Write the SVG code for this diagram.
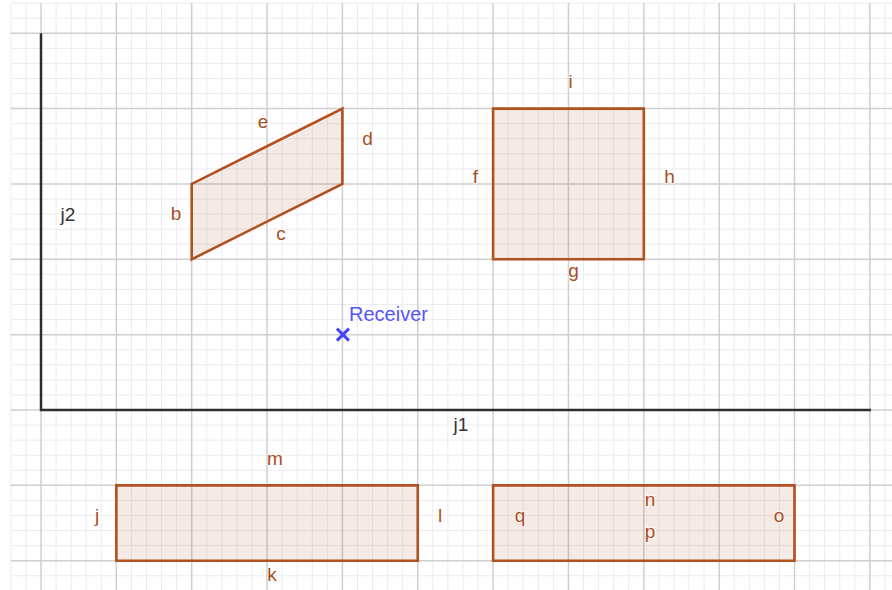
<svg xmlns="http://www.w3.org/2000/svg" width="892" height="590" viewBox="0 0 892 590">
<style>
.minor{stroke:#ececec;stroke-width:1;fill:none}
.major{stroke:#cfcfcf;stroke-width:1.5;fill:none}
.axis{stroke:#2e2e2e;stroke-width:2.5;fill:none}
.poly{fill:#993300;fill-opacity:0.1;stroke:#b0511f;stroke-width:2.6;stroke-linejoin:miter}
.lbl{font-family:"Liberation Sans",Arial,sans-serif;font-size:19px;fill:#a64f24;text-anchor:middle;stroke:#ffffff;stroke-width:2;stroke-opacity:0.6;paint-order:stroke}
.axlbl{font-family:"Liberation Sans",Arial,sans-serif;font-size:19px;fill:#333333;text-anchor:middle}
.pt{stroke:#4444ff;stroke-width:3;fill:none;stroke-linecap:butt}
.ptlbl{font-family:"Liberation Sans",Arial,sans-serif;font-size:20px;fill:#5555ff}
</style>
<rect width="892" height="590" fill="#ffffff"/>
<g id="grid">
<path class="minor" d="M10.86 3.11V590M25.93 3.11V590M56.07 3.11V590M71.14 3.11V590M86.21 3.11V590M101.28 3.11V590M131.42 3.11V590M146.49 3.11V590M161.56 3.11V590M176.63 3.11V590M206.77 3.11V590M221.84 3.11V590M236.91 3.11V590M251.98 3.11V590M282.12 3.11V590M297.19 3.11V590M312.26 3.11V590M327.33 3.11V590M357.47 3.11V590M372.54 3.11V590M387.61 3.11V590M402.68 3.11V590M432.82 3.11V590M447.89 3.11V590M462.96 3.11V590M478.03 3.11V590M508.17 3.11V590M523.24 3.11V590M538.31 3.11V590M553.38 3.11V590M583.52 3.11V590M598.59 3.11V590M613.66 3.11V590M628.73 3.11V590M658.87 3.11V590M673.94 3.11V590M689.01 3.11V590M704.08 3.11V590M734.22 3.11V590M749.29 3.11V590M764.36 3.11V590M779.43 3.11V590M809.57 3.11V590M824.64 3.11V590M839.71 3.11V590M854.78 3.11V590M884.92 3.11V590
M10.86 3.11H892M10.86 18.18H892M10.86 48.32H892M10.86 63.39H892M10.86 78.46H892M10.86 93.53H892M10.86 123.67H892M10.86 138.74H892M10.86 153.81H892M10.86 168.88H892M10.86 199.02H892M10.86 214.09H892M10.86 229.16H892M10.86 244.23H892M10.86 274.37H892M10.86 289.44H892M10.86 304.51H892M10.86 319.58H892M10.86 349.72H892M10.86 364.79H892M10.86 379.86H892M10.86 394.93H892M10.86 425.07H892M10.86 440.14H892M10.86 455.21H892M10.86 470.28H892M10.86 500.42H892M10.86 515.49H892M10.86 530.56H892M10.86 545.63H892M10.86 575.77H892"/>
<path class="major" d="M41 3.11V590M116.35 3.11V590M191.7 3.11V590M267.05 3.11V590M342.4 3.11V590M417.75 3.11V590M493.1 3.11V590M568.45 3.11V590M643.8 3.11V590M719.15 3.11V590M794.5 3.11V590M869.85 3.11V590
M10.86 33.25H892M10.86 108.6H892M10.86 183.95H892M10.86 259.3H892M10.86 334.65H892M10.86 410H892M10.86 485.35H892M10.86 560.7H892"/>
</g>
<g id="axes">
<path class="axis" d="M41 33.25V410H871"/>
<text class="axlbl" x="68" y="221">j2</text>
<text class="axlbl" x="461" y="431">j1</text>
</g>
<g id="parallelogram">
<polygon class="poly" points="191.7,259.3 191.7,183.95 342.4,108.6 342.4,183.95"/>
<text class="lbl" x="263" y="128">e</text>
<text class="lbl" x="367.5" y="145">d</text>
<text class="lbl" x="176" y="220">b</text>
<text class="lbl" x="281" y="240">c</text>
</g>
<g id="square">
<polygon class="poly" points="493.1,108.6 643.8,108.6 643.8,259.3 493.1,259.3"/>
<text class="lbl" x="570.5" y="87.5">i</text>
<text class="lbl" x="475.5" y="183">f</text>
<text class="lbl" x="669.5" y="183">h</text>
<text class="lbl" x="573.5" y="277">g</text>
</g>
<g id="rect-left">
<polygon class="poly" points="116.35,485.35 417.75,485.35 417.75,560.7 116.35,560.7"/>
<text class="lbl" x="275" y="465">m</text>
<text class="lbl" x="97" y="521.5">j</text>
<text class="lbl" x="440" y="522">l</text>
<text class="lbl" x="272" y="581">k</text>
</g>
<g id="rect-right">
<polygon class="poly" points="493.1,485.35 794.5,485.35 794.5,560.7 493.1,560.7"/>
<text class="lbl" x="520" y="522">q</text>
<text class="lbl" x="650" y="506">n</text>
<text class="lbl" x="650" y="538">p</text>
<text class="lbl" x="779" y="522">o</text>
</g>
<g id="receiver">
<path class="pt" d="M336.9 328.65L348.9 340.65M348.9 328.65L336.9 340.65"/>
<text class="ptlbl" x="349" y="321">Receiver</text>
</g>
</svg>
